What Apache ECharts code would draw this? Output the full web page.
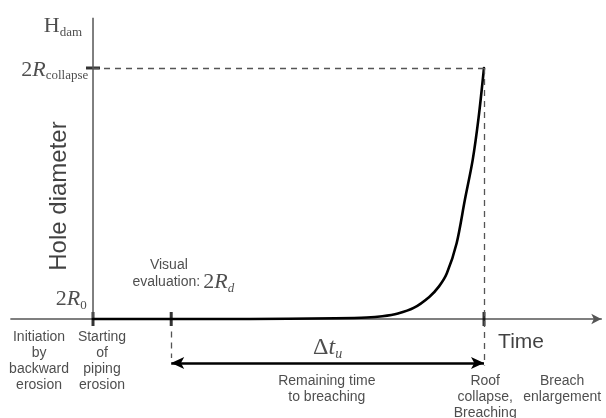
<!DOCTYPE html>
<html>
<head>
<meta charset="utf-8">
<script src="https://cdn.jsdelivr.net/npm/echarts@6/dist/echarts.min.js"></script>
<style>html,body{margin:0;padding:0;background:#fff;}#c{width:606px;height:418px;}</style>
</head>
<body>
<div id="c"></div>
<script>
// ---- data ----
// time (relative units, breaching = 100) and hole diameter (2R_collapse = 100)
const curveT = [0, 30, 50, 62, 70, 74, 78, 82, 86, 88.5, 90.5, 93, 95.1, 97.1, 98.6, 100];
const curveV = [0, 0, 0.1, 0.3, 0.6, 1.1, 2.2, 4.4, 8.8, 13, 18.2, 30.2, 47.4, 63.3, 80, 100];
const tStartPiping = 0;
const tVisual = 20;
const tBreach = 100;
const vCollapse = 100;
const xTicks = [tStartPiping, tVisual, tBreach];
const yTicks = [vCollapse];
const arrowLevel = -17.5;

const SERIF = 'Liberation Serif';
const SANS = 'Liberation Sans';
const rich = {
  m: {fontFamily: SERIF, fontSize: 22, color: '#222'},
  mi: {fontFamily: SERIF, fontSize: 22, fontStyle: 'italic', color: '#222'},
  sub: {fontFamily: SERIF, fontSize: 13, color: '#222', padding: [12, 0, 0, 0]},
  subi: {fontFamily: SERIF, fontSize: 13, fontStyle: 'italic', color: '#222', padding: [12, 0, 0, 0]},
  M: {fontFamily: SERIF, fontSize: 24, color: '#222'},
  Mi: {fontFamily: SERIF, fontSize: 24, fontStyle: 'italic', color: '#222'},
  Subi: {fontFamily: SERIF, fontSize: 14, fontStyle: 'italic', color: '#222', padding: [13, 0, 0, 0]},
  s: {fontFamily: SANS, fontSize: 14, color: '#222', lineHeight: 16}
};

// annotations: [t, v, text, align, verticalAlign, fontSize, rotate]
const annotations = [
  [-2.8, 116.5, '{m|H}{sub|dam}', 'right', 'middle', 0, 0],
  [-1.2, 99.2, '{m|2}{mi|R}{sub|collapse}', 'right', 'middle', 0, 0],
  [-1.6, 7.8, '{m|2}{mi|R}{sub|0}', 'right', 'middle', 0, 0],
  [-8.6, 49, 'Hole diameter', 'center', 'middle', 24, 90],
  [19.4, 21.5, '{s|Visual}', 'center', 'middle', 0, 0],
  [27.4, 14.7, '{s|evaluation:}', 'right', 'middle', 0, 0],
  [28.2, 14.7, '{m|2}{mi|R}{subi|d}', 'left', 'middle', 0, 0],
  [-13.8, -16.7, '{s|Initiation}\n{s|by}\n{s|backward}\n{s|erosion}', 'center', 'middle', 0, 0],
  [2.3, -16.7, '{s|Starting}\n{s|of}\n{s|piping}\n{s|erosion}', 'center', 'middle', 0, 0],
  [60, -11.6, '{M|Δ}{Mi|t}{Subi|u}', 'center', 'middle', 0, 0],
  [103.6, -9.2, 'Time', 'left', 'middle', 21, 0],
  [59.8, -21.5, '{s|Remaining time}\n{s|to breaching}', 'center', 'top', 0, 0],
  [100.3, -21.5, '{s|Roof}\n{s|collapse,}\n{s|Breaching}', 'center', 'top', 0, 0],
  [120, -21.5, '{s|Breach}\n{s|enlargement}', 'center', 'top', 0, 0]
];

const chart = echarts.init(document.getElementById('c'), null, {renderer: 'canvas'});
const dash = {type: [6, 5], color: '#555', width: 1.3};

const option = {
  animation: false,
  backgroundColor: '#fff',
  grid: {left: 10.9, right: 4.7, top: 17.8, bottom: 23.7},
  xAxis: {
    type: 'value', min: -21, max: 130,
    axisLine: {onZero: true, lineStyle: {color: '#555', width: 1.5}, symbol: ['none', 'arrow'], symbolSize: [8, 10]},
    axisTick: {show: false}, axisLabel: {show: false}, splitLine: {show: false}
  },
  yAxis: {
    type: 'value', min: -30, max: 120,
    axisLine: {show: false}, axisTick: {show: false}, axisLabel: {show: false}, splitLine: {show: false}
  },
  series: [
    {
      type: 'line', name: 'yaxis', data: [[0, 0], [0, 120]], symbol: 'none', silent: true,
      lineStyle: {color: '#555', width: 1.5}
    },
    {
      type: 'line', name: 'guides', data: [], symbol: 'none', silent: true,
      markLine: {
        silent: true, symbol: ['none', 'none'], label: {show: false}, animation: false,
        lineStyle: dash,
        data: [
          [{coord: [tStartPiping, vCollapse]}, {coord: [tBreach, vCollapse]}],
          [{coord: [tBreach, vCollapse]}, {coord: [tBreach, -18.5]}],
          [{coord: [tVisual, -5]}, {coord: [tVisual, -15.5]}]
        ]
      }
    },
    {
      type: 'line', name: 'arrow', data: [], symbol: 'none', silent: true,
      markLine: {
        silent: true, symbol: ['arrow', 'arrow'], symbolSize: [9, 13], label: {show: false}, animation: false,
        lineStyle: {type: 'solid', color: '#000', width: 2.5},
        data: [[{coord: [tVisual, arrowLevel]}, {coord: [tBreach, arrowLevel]}]]
      }
    },
    {
      type: 'line', name: 'diameter', smooth: 0.3, symbol: 'none',
      data: curveT.map((t, i) => [t, curveV[i]]),
      lineStyle: {color: '#000', width: 2.6, join: 'round', cap: 'round'}
    },
    {
      type: 'scatter', name: 'xticks', symbol: 'rect', symbolSize: [3, 14], silent: true,
      itemStyle: {color: '#000'},
      data: xTicks.map(t => [t, 0])
    },
    {
      type: 'scatter', name: 'yticks', symbol: 'rect', symbolSize: [14, 3], silent: true,
      itemStyle: {color: '#000'},
      data: yTicks.map(v => [0, v])
    },
    {
      type: 'scatter', name: 'labels', symbolSize: 0, silent: true, clip: false,
      data: annotations.map(a => ({
        value: [a[0], a[1]],
        label: {
          show: true, position: 'inside', formatter: a[2], rich: rich,
          align: a[3], verticalAlign: a[4], rotate: a[6],
          fontFamily: SANS, fontSize: a[5] || 14, color: '#111'
        }
      }))
    }
  ]
};
chart.setOption(option);
</script>
</body>
</html>
